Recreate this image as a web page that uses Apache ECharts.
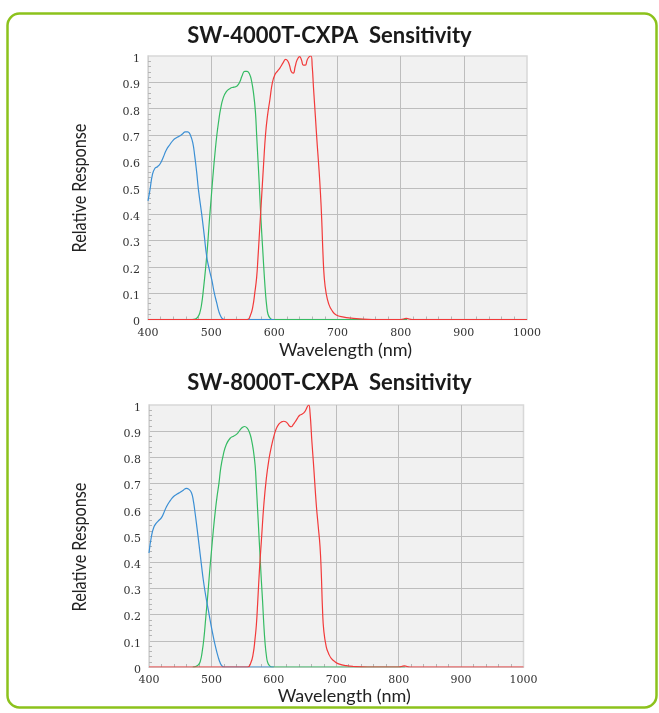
<!DOCTYPE html>
<html>
<head>
<meta charset="utf-8">
<script src="https://cdn.jsdelivr.net/npm/echarts@6/dist/echarts.min.js"></script>
<style>
html,body{margin:0;padding:0;background:#fff;}
#c{width:659px;height:713px;}
</style>
</head>
<body>
<div id="c"></div>
<script>
// ---- Data (wavelength nm, relative response) ----
var titles = ['SW-4000T-CXPA  Sensitivity', 'SW-8000T-CXPA  Sensitivity'];
var xTitle = 'Wavelength (nm)';
var yTitle = 'Relative Response';

var topBlue = [[400,0.45],[403,0.49],[407,0.55],[411,0.574],[415,0.58],[419,0.59],[424,0.615],[429,0.643],[435,0.665],[440,0.681],[445,0.69],[450,0.696],[455,0.705],[459,0.712],[463,0.712],[467,0.70],[471,0.669],[474,0.62],[477,0.56],[480,0.49],[485,0.40],[489,0.32],[493,0.238],[497,0.19],[501,0.15],[505,0.10],[509,0.061],[512,0.032],[515,0.013],[518,0.003],[522,0.0],[560,0],[600,0]];
var topGreen = [[470,0],[475,0.002],[479,0.01],[482,0.025],[485,0.06],[488,0.12],[491,0.19],[494,0.27],[497,0.37],[500,0.46],[503,0.55],[506,0.63],[509,0.70],[512,0.755],[515,0.80],[519,0.84],[524,0.865],[530,0.877],[536,0.882],[541,0.886],[545,0.90],[549,0.925],[553,0.942],[557,0.942],[561,0.93],[564,0.905],[567,0.86],[570,0.79],[572,0.70],[574,0.61],[576,0.52],[578,0.42],[580,0.33],[582,0.25],[584,0.17],[586,0.10],[588,0.05],[590,0.02],[593,0.006],[597,0],[700,0],[810,0]];
var topRed = [[400,0],[500,0],[557,0],[562,0.015],[566,0.05],[569,0.10],[572,0.16],[574,0.23],[576,0.31],[578,0.39],[580,0.47],[583,0.59],[586,0.70],[589,0.77],[593,0.835],[597,0.90],[601,0.93],[605,0.943],[609,0.955],[614,0.975],[618,0.987],[621,0.982],[624,0.965],[627,0.94],[630,0.935],[633,0.96],[636,0.985],[640,0.998],[643,0.985],[646,0.965],[649,0.965],[652,0.985],[655,0.997],[658,1.0],[660,0.96],[662,0.88],[665,0.77],[668,0.66],[671,0.56],[673,0.48],[675,0.38],[677,0.25],[679,0.16],[682,0.10],[686,0.06],[691,0.035],[698,0.017],[710,0.009],[722,0.005],[735,0.002],[755,0],[800,0],[809,0.004],[818,0],[1000,0]];

var botBlue = [[400,0.435],[404,0.50],[408,0.535],[412,0.55],[416,0.56],[420,0.57],[424,0.59],[428,0.612],[434,0.635],[439,0.65],[445,0.66],[450,0.667],[455,0.675],[460,0.682],[464,0.678],[468,0.665],[471,0.635],[474,0.585],[477,0.529],[480,0.47],[484,0.39],[487,0.332],[491,0.27],[495,0.218],[499,0.165],[503,0.116],[507,0.073],[511,0.037],[514,0.016],[517,0.004],[521,0],[560,0],[600,0]];
var botGreen = [[470,0],[475,0.002],[479,0.008],[482,0.02],[485,0.055],[488,0.11],[491,0.19],[494,0.27],[497,0.36],[500,0.44],[503,0.52],[506,0.59],[509,0.65],[512,0.70],[515,0.76],[519,0.81],[524,0.85],[530,0.873],[536,0.882],[541,0.89],[546,0.905],[550,0.915],[553,0.918],[557,0.913],[561,0.895],[564,0.87],[567,0.83],[570,0.77],[572,0.69],[574,0.60],[576,0.51],[578,0.42],[580,0.33],[582,0.25],[584,0.16],[586,0.09],[588,0.045],[590,0.018],[593,0.005],[597,0],[700,0],[810,0]];
var botRed = [[400,0],[500,0],[558,0],[563,0.015],[567,0.052],[570,0.11],[572,0.16],[574,0.24],[576,0.33],[578,0.41],[580,0.48],[584,0.62],[588,0.72],[592,0.79],[596,0.84],[600,0.88],[604,0.91],[608,0.927],[612,0.935],[616,0.938],[619,0.936],[622,0.93],[625,0.92],[628,0.917],[631,0.925],[634,0.935],[638,0.95],[641,0.96],[645,0.965],[648,0.97],[651,0.98],[654,0.995],[656,1.0],[658,0.97],[661,0.86],[664,0.76],[668,0.62],[671,0.54],[674,0.46],[676,0.36],[678,0.22],[680,0.14],[684,0.077],[688,0.05],[692,0.033],[698,0.02],[705,0.011],[716,0.005],[727,0.002],[750,0],[800,0],[809,0.004],[818,0],[1000,0]];

var colors = {blue:'#3b8fd4', green:'#35bb63', red:'#f23a3a'};

var grids = [
  {left:148, top:56, width:379, height:263.5},
  {left:149, top:405, width:374.5, height:262}
];
var tickFont = 'Georgia, "DejaVu Serif", serif';

function mkX(i, gap){
  return {
    gridIndex:i, type:'value', min:400, max:1000, interval:100,
    name:xTitle, nameLocation:'middle', nameGap:gap,
    nameTextStyle:{fontFamily:'Lato', fontSize:18, color:'#222', padding:[0,0,0,16]},
    axisLine:{show:true, lineStyle:{color:'#d0d0d0', width:1}},
    axisTick:{show:false},
    minorTick:{show:true, splitNumber:5, length:-3, lineStyle:{color:'#b5b5b5'}},
    axisLabel:{color:'#333', fontSize:11, fontFamily:tickFont, margin:8,
      formatter:function(v){ return String(v); }},
    splitLine:{show:true, showMinLine:false, showMaxLine:false, lineStyle:{color:'#bdbdbd', width:1}}
  };
}
function mkY(i){
  return {
    gridIndex:i, type:'value', min:0, max:1, interval:0.1,
    axisLine:{show:true, lineStyle:{color:'#d0d0d0', width:1}},
    axisTick:{show:false},
    minorTick:{show:true, splitNumber:5, length:-3, lineStyle:{color:'#b5b5b5'}},
    axisLabel:{color:'#333', fontSize:11, fontFamily:tickFont, margin:8, verticalAlign:'top', lineHeight:6,
      formatter:function(v){ return (Math.round(v*10)/10).toString(); }},
    splitLine:{show:true, showMinLine:false, showMaxLine:false, lineStyle:{color:'#bdbdbd', width:1}}
  };
}
function mkS(data, color, i){
  return {type:'line', xAxisIndex:i, yAxisIndex:i, data:data, smooth:0.5,
    showSymbol:false, symbol:'none', lineStyle:{color:color, width:1.2}, itemStyle:{color:color},
    clip:true, animation:false};
}
function yName(cy){
  return {type:'text', x:80, y:cy, rotation:Math.PI/2, scaleX:0.81, scaleY:1,
    style:{text:yTitle, font:'normal 20px Lato', fill:'#222', align:'center', verticalAlign:'middle'}};
}

var chart = echarts.init(document.getElementById('c'), null, {renderer:'canvas'});
chart.setOption({
  animation:false,
  backgroundColor:'#fff',
  title:[
    {text:titles[0], left:'center', top:20, textStyle:{fontFamily:'Lato', fontWeight:'bold', fontSize:22, color:'#1a1a1a'}},
    {text:titles[1], left:'center', top:367, textStyle:{fontFamily:'Lato', fontWeight:'bold', fontSize:22, color:'#1a1a1a'}}
  ],
  graphic:[
    {type:'rect', shape:{x:7.5, y:13.5, width:649, height:694, r:12}, style:{fill:'none', stroke:'#8cc21c', lineWidth:2.5}, z:-1},
    yName(188), yName(547)
  ],
  grid: grids.map(function(g){ return {left:g.left, top:g.top, width:g.width, height:g.height, show:true, backgroundColor:'#f1f1f1', borderColor:'#d8d8d8', borderWidth:1.5}; }),
  xAxis:[mkX(0, 22), mkX(1, 19)],
  yAxis:[mkY(0), mkY(1)],
  series:[
    mkS(topGreen, colors.green, 0), mkS(topBlue, colors.blue, 0), mkS(topRed, colors.red, 0),
    mkS(botGreen, colors.green, 1), mkS(botBlue, colors.blue, 1), mkS(botRed, colors.red, 1)
  ]
});
</script>
</body>
</html>
